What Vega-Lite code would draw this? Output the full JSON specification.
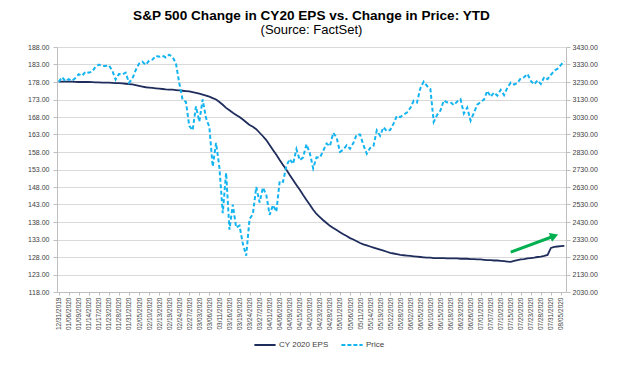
{
"$schema": "https://vega.github.io/schema/vega-lite/v6.json",
"width": 509, "height": 245,
"autosize": {"type": "none"},
"padding": {"left": 57, "top": 47, "right": 64, "bottom": 75},
"background": "white",
"config": {
 "font": "Liberation Sans",
 "view": {"stroke": null},
 "axis": {"labelFont": "Liberation Sans", "labelColor": "#404040", "domainColor": "#bfbfbf", "tickColor": "#bfbfbf", "gridColor": "#d9d9d9", "title": null, "labelFontSize": 7, "labelOverlap": false}
},
"title": {"text": "S&P 500 Change in CY20 EPS vs. Change in Price: YTD", "subtitle": "(Source: FactSet)", "fontSize": 13.6, "fontWeight": "bold", "subtitleFontSize": 13, "color": "#000000", "subtitleColor": "#000000", "anchor": "middle", "offset": 6, "subtitlePadding": 1, "font": "Liberation Sans", "subtitleFont": "Liberation Sans"},
"datasets": {
 "main": [
{"d":"12/31/2019","eps":178.1,"px":3230.78},
{"d":"01/02/2020","eps":178.1,"px":3257.85},
{"d":"01/03/2020","eps":178.1,"px":3234.85},
{"d":"01/06/2020","eps":178.1,"px":3246.28},
{"d":"01/07/2020","eps":178.1,"px":3237.18},
{"d":"01/08/2020","eps":178.05,"px":3253.05},
{"d":"01/09/2020","eps":178.0,"px":3274.70},
{"d":"01/10/2020","eps":178.0,"px":3265.35},
{"d":"01/13/2020","eps":178.0,"px":3288.13},
{"d":"01/14/2020","eps":178.0,"px":3283.15},
{"d":"01/15/2020","eps":177.95,"px":3289.29},
{"d":"01/16/2020","eps":177.9,"px":3316.81},
{"d":"01/17/2020","eps":177.9,"px":3329.62},
{"d":"01/21/2020","eps":177.85,"px":3320.79},
{"d":"01/22/2020","eps":177.8,"px":3321.75},
{"d":"01/23/2020","eps":177.8,"px":3325.54},
{"d":"01/24/2020","eps":177.75,"px":3295.47},
{"d":"01/27/2020","eps":177.7,"px":3243.63},
{"d":"01/28/2020","eps":177.7,"px":3276.24},
{"d":"01/29/2020","eps":177.6,"px":3273.40},
{"d":"01/30/2020","eps":177.5,"px":3283.66},
{"d":"01/31/2020","eps":177.4,"px":3225.52},
{"d":"02/03/2020","eps":177.3,"px":3248.92},
{"d":"02/04/2020","eps":177.1,"px":3297.59},
{"d":"02/05/2020","eps":176.9,"px":3334.69},
{"d":"02/06/2020","eps":176.7,"px":3345.78},
{"d":"02/07/2020","eps":176.5,"px":3327.71},
{"d":"02/10/2020","eps":176.4,"px":3352.09},
{"d":"02/11/2020","eps":176.3,"px":3357.75},
{"d":"02/12/2020","eps":176.2,"px":3379.45},
{"d":"02/13/2020","eps":176.1,"px":3373.94},
{"d":"02/14/2020","eps":176.0,"px":3380.16},
{"d":"02/18/2020","eps":175.9,"px":3370.29},
{"d":"02/19/2020","eps":175.85,"px":3386.15},
{"d":"02/20/2020","eps":175.8,"px":3373.23},
{"d":"02/21/2020","eps":175.7,"px":3337.75},
{"d":"02/24/2020","eps":175.6,"px":3225.89},
{"d":"02/25/2020","eps":175.5,"px":3128.21},
{"d":"02/26/2020","eps":175.4,"px":3116.39},
{"d":"02/27/2020","eps":175.3,"px":2978.76},
{"d":"02/28/2020","eps":175.1,"px":2954.22},
{"d":"03/02/2020","eps":174.9,"px":3090.23},
{"d":"03/03/2020","eps":174.7,"px":3003.37},
{"d":"03/04/2020","eps":174.4,"px":3130.12},
{"d":"03/05/2020","eps":174.1,"px":3023.94},
{"d":"03/06/2020","eps":173.8,"px":2972.37},
{"d":"03/09/2020","eps":173.4,"px":2746.56},
{"d":"03/10/2020","eps":173.0,"px":2882.23},
{"d":"03/11/2020","eps":172.3,"px":2741.38},
{"d":"03/12/2020","eps":171.5,"px":2480.64},
{"d":"03/13/2020","eps":170.6,"px":2711.02},
{"d":"03/16/2020","eps":169.9,"px":2386.13},
{"d":"03/17/2020","eps":169.2,"px":2529.19},
{"d":"03/18/2020","eps":168.6,"px":2398.10},
{"d":"03/19/2020","eps":168.0,"px":2409.39},
{"d":"03/20/2020","eps":167.3,"px":2304.92},
{"d":"03/23/2020","eps":166.5,"px":2237.40},
{"d":"03/24/2020","eps":165.7,"px":2447.33},
{"d":"03/25/2020","eps":165.2,"px":2475.56},
{"d":"03/26/2020","eps":164.5,"px":2630.07},
{"d":"03/27/2020","eps":163.5,"px":2541.47},
{"d":"03/30/2020","eps":162.5,"px":2626.65},
{"d":"03/31/2020","eps":161.4,"px":2584.59},
{"d":"04/01/2020","eps":160.0,"px":2470.50},
{"d":"04/02/2020","eps":158.6,"px":2526.90},
{"d":"04/03/2020","eps":157.2,"px":2488.65},
{"d":"04/06/2020","eps":155.7,"px":2663.68},
{"d":"04/07/2020","eps":154.3,"px":2659.41},
{"d":"04/08/2020","eps":152.9,"px":2749.98},
{"d":"04/09/2020","eps":151.4,"px":2789.82},
{"d":"04/13/2020","eps":150.0,"px":2761.63},
{"d":"04/14/2020","eps":148.6,"px":2846.06},
{"d":"04/15/2020","eps":147.2,"px":2783.36},
{"d":"04/16/2020","eps":145.7,"px":2799.55},
{"d":"04/17/2020","eps":144.3,"px":2874.56},
{"d":"04/20/2020","eps":142.9,"px":2823.16},
{"d":"04/21/2020","eps":141.5,"px":2736.56},
{"d":"04/22/2020","eps":140.3,"px":2799.31},
{"d":"04/23/2020","eps":139.4,"px":2797.80},
{"d":"04/24/2020","eps":138.5,"px":2836.74},
{"d":"04/27/2020","eps":137.7,"px":2878.48},
{"d":"04/28/2020","eps":136.9,"px":2863.39},
{"d":"04/29/2020","eps":136.3,"px":2939.51},
{"d":"04/30/2020","eps":135.7,"px":2912.43},
{"d":"05/01/2020","eps":135.1,"px":2830.71},
{"d":"05/04/2020","eps":134.5,"px":2842.74},
{"d":"05/05/2020","eps":134.0,"px":2868.44},
{"d":"05/06/2020","eps":133.4,"px":2848.42},
{"d":"05/07/2020","eps":133.0,"px":2881.19},
{"d":"05/08/2020","eps":132.5,"px":2929.80},
{"d":"05/11/2020","eps":132.0,"px":2930.32},
{"d":"05/12/2020","eps":131.6,"px":2870.12},
{"d":"05/13/2020","eps":131.3,"px":2820.00},
{"d":"05/14/2020","eps":131.0,"px":2852.50},
{"d":"05/15/2020","eps":130.7,"px":2863.70},
{"d":"05/18/2020","eps":130.4,"px":2953.91},
{"d":"05/19/2020","eps":130.1,"px":2922.94},
{"d":"05/20/2020","eps":129.8,"px":2971.61},
{"d":"05/21/2020","eps":129.5,"px":2948.51},
{"d":"05/22/2020","eps":129.2,"px":2955.45},
{"d":"05/26/2020","eps":129.0,"px":2991.77},
{"d":"05/27/2020","eps":128.8,"px":3036.13},
{"d":"05/28/2020","eps":128.6,"px":3029.73},
{"d":"05/29/2020","eps":128.5,"px":3044.31},
{"d":"06/01/2020","eps":128.4,"px":3055.73},
{"d":"06/02/2020","eps":128.3,"px":3080.82},
{"d":"06/03/2020","eps":128.2,"px":3122.87},
{"d":"06/04/2020","eps":128.1,"px":3112.35},
{"d":"06/05/2020","eps":128.0,"px":3193.93},
{"d":"06/08/2020","eps":127.9,"px":3232.39},
{"d":"06/09/2020","eps":127.8,"px":3207.18},
{"d":"06/10/2020","eps":127.8,"px":3190.14},
{"d":"06/11/2020","eps":127.7,"px":3002.10},
{"d":"06/12/2020","eps":127.7,"px":3041.31},
{"d":"06/15/2020","eps":127.7,"px":3066.59},
{"d":"06/16/2020","eps":127.7,"px":3124.74},
{"d":"06/17/2020","eps":127.6,"px":3113.49},
{"d":"06/18/2020","eps":127.6,"px":3115.34},
{"d":"06/19/2020","eps":127.6,"px":3097.74},
{"d":"06/22/2020","eps":127.6,"px":3117.86},
{"d":"06/23/2020","eps":127.5,"px":3131.29},
{"d":"06/24/2020","eps":127.5,"px":3050.33},
{"d":"06/25/2020","eps":127.5,"px":3083.76},
{"d":"06/26/2020","eps":127.4,"px":3009.05},
{"d":"06/29/2020","eps":127.4,"px":3053.24},
{"d":"06/30/2020","eps":127.3,"px":3100.29},
{"d":"07/01/2020","eps":127.3,"px":3115.86},
{"d":"07/02/2020","eps":127.2,"px":3130.01},
{"d":"07/06/2020","eps":127.1,"px":3179.72},
{"d":"07/07/2020","eps":127.1,"px":3145.32},
{"d":"07/08/2020","eps":127.0,"px":3169.94},
{"d":"07/09/2020","eps":127.0,"px":3152.05},
{"d":"07/10/2020","eps":126.9,"px":3185.04},
{"d":"07/13/2020","eps":126.8,"px":3155.22},
{"d":"07/14/2020","eps":126.7,"px":3197.52},
{"d":"07/15/2020","eps":126.6,"px":3226.56},
{"d":"07/16/2020","eps":126.9,"px":3215.57},
{"d":"07/17/2020","eps":127.1,"px":3224.73},
{"d":"07/20/2020","eps":127.3,"px":3251.84},
{"d":"07/21/2020","eps":127.4,"px":3257.30},
{"d":"07/22/2020","eps":127.6,"px":3276.02},
{"d":"07/23/2020","eps":127.7,"px":3235.66},
{"d":"07/24/2020","eps":127.8,"px":3215.63},
{"d":"07/27/2020","eps":128.0,"px":3239.41},
{"d":"07/28/2020","eps":128.1,"px":3218.44},
{"d":"07/29/2020","eps":128.3,"px":3258.44},
{"d":"07/30/2020","eps":128.6,"px":3246.22},
{"d":"07/31/2020","eps":130.6,"px":3271.12},
{"d":"08/03/2020","eps":130.9,"px":3294.61},
{"d":"08/04/2020","eps":131.0,"px":3306.51},
{"d":"08/05/2020","eps":131.1,"px":3327.77},
{"d":"08/06/2020","eps":131.2,"px":3349.16}
 ],
 "arrow": [{"d": "07/15/2020", "d2": "08/03/2020", "y1": 129.4, "y2": 134.0}]
},
"layer": [
 {
  "layer": [
   {
    "data": {"name": "main"},
    "mark": {"type": "line", "strokeWidth": 1.8},
    "encoding": {
     "x": {"field": "d", "type": "ordinal", "sort": null,
       "scale": {"type": "point", "padding": 0.5},
       "axis": {"values": ["12/31/2019","01/06/2020","01/09/2020","01/14/2020","01/17/2020","01/23/2020","01/28/2020","01/31/2020","02/05/2020","02/10/2020","02/13/2020","02/19/2020","02/24/2020","02/27/2020","03/03/2020","03/06/2020","03/11/2020","03/16/2020","03/19/2020","03/24/2020","03/27/2020","04/01/2020","04/06/2020","04/09/2020","04/15/2020","04/20/2020","04/23/2020","04/28/2020","05/01/2020","05/06/2020","05/11/2020","05/14/2020","05/19/2020","05/22/2020","05/28/2020","06/02/2020","06/05/2020","06/10/2020","06/15/2020","06/18/2020","06/23/2020","06/26/2020","07/01/2020","07/07/2020","07/10/2020","07/15/2020","07/20/2020","07/23/2020","07/28/2020","07/31/2020","08/05/2020"],
         "labelAngle": -90, "labelFontSize": 6.5, "tickSize": 3, "labelPadding": 2, "grid": false}},
     "y": {"field": "eps", "type": "quantitative",
       "scale": {"domain": [118, 188], "nice": false, "zero": false},
       "axis": {"orient": "left", "values": [118,123,128,133,138,143,148,153,158,163,168,173,178,183,188], "tickCount": 15, "format": ".2f", "grid": true, "tickSize": 4, "labelPadding": 4}},
     "color": {"datum": "CY 2020 EPS", "type": "nominal",
       "scale": {"domain": ["CY 2020 EPS", "Price"], "range": ["#1f2d5c", "#14b4f0"]},
       "legend": {"title": null, "orient": "none", "legendX": 196, "legendY": 286, "direction": "horizontal", "labelFontSize": 8, "labelColor": "#404040", "symbolType": "stroke", "symbolStrokeWidth": 2, "symbolSize": 450, "columnPadding": 8, "labelOffset": 2,
         "encode": {"symbols": {"update": {"strokeDash": {"signal": "datum.value == 'Price' ? [4, 2] : [1, 0]"}}}}}}
    }
   },
   {
    "data": {"name": "arrow"},
    "mark": {"type": "rule", "strokeWidth": 3, "color": "#00b050"},
    "encoding": {
     "x": {"field": "d", "type": "ordinal", "sort": null,
       "axis": {"values": ["12/31/2019","01/06/2020","01/09/2020","01/14/2020","01/17/2020","01/23/2020","01/28/2020","01/31/2020","02/05/2020","02/10/2020","02/13/2020","02/19/2020","02/24/2020","02/27/2020","03/03/2020","03/06/2020","03/11/2020","03/16/2020","03/19/2020","03/24/2020","03/27/2020","04/01/2020","04/06/2020","04/09/2020","04/15/2020","04/20/2020","04/23/2020","04/28/2020","05/01/2020","05/06/2020","05/11/2020","05/14/2020","05/19/2020","05/22/2020","05/28/2020","06/02/2020","06/05/2020","06/10/2020","06/15/2020","06/18/2020","06/23/2020","06/26/2020","07/01/2020","07/07/2020","07/10/2020","07/15/2020","07/20/2020","07/23/2020","07/28/2020","07/31/2020","08/05/2020"],
         "labelAngle": -90, "labelFontSize": 6.5, "tickSize": 3, "labelPadding": 2, "grid": false}},
     "x2": {"field": "d2"},
     "y": {"field": "y1", "type": "quantitative",
       "axis": {"orient": "left", "values": [118,123,128,133,138,143,148,153,158,163,168,173,178,183,188], "tickCount": 15, "format": ".2f", "grid": true, "tickSize": 4, "labelPadding": 4}},
     "y2": {"field": "y2"}
    }
   },
   {
    "data": {"name": "arrow"},
    "mark": {"type": "point", "shape": "triangle-right", "filled": true, "color": "#00b050", "opacity": 1, "size": 90, "angle": 340},
    "encoding": {
     "x": {"field": "d2", "type": "ordinal", "sort": null,
       "axis": {"values": ["12/31/2019","01/06/2020","01/09/2020","01/14/2020","01/17/2020","01/23/2020","01/28/2020","01/31/2020","02/05/2020","02/10/2020","02/13/2020","02/19/2020","02/24/2020","02/27/2020","03/03/2020","03/06/2020","03/11/2020","03/16/2020","03/19/2020","03/24/2020","03/27/2020","04/01/2020","04/06/2020","04/09/2020","04/15/2020","04/20/2020","04/23/2020","04/28/2020","05/01/2020","05/06/2020","05/11/2020","05/14/2020","05/19/2020","05/22/2020","05/28/2020","06/02/2020","06/05/2020","06/10/2020","06/15/2020","06/18/2020","06/23/2020","06/26/2020","07/01/2020","07/07/2020","07/10/2020","07/15/2020","07/20/2020","07/23/2020","07/28/2020","07/31/2020","08/05/2020"],
         "labelAngle": -90, "labelFontSize": 6.5, "tickSize": 3, "labelPadding": 2, "grid": false}},
     "y": {"field": "y2", "type": "quantitative",
       "axis": {"orient": "left", "values": [118,123,128,133,138,143,148,153,158,163,168,173,178,183,188], "tickCount": 15, "format": ".2f", "grid": true, "tickSize": 4, "labelPadding": 4}}
    }
   }
  ]
 },
 {
  "data": {"name": "main"},
  "mark": {"type": "line", "strokeWidth": 2, "strokeDash": [4, 2.5]},
  "encoding": {
   "x": {"field": "d", "type": "ordinal", "sort": null},
   "y": {"field": "px", "type": "quantitative",
     "scale": {"domain": [2030, 3430], "nice": false, "zero": false},
     "axis": {"orient": "right", "values": [2030,2130,2230,2330,2430,2530,2630,2730,2830,2930,3030,3130,3230,3330,3430], "tickCount": 15, "format": ".2f", "grid": false, "tickSize": 4, "labelPadding": 2}},
   "color": {"datum": "Price", "type": "nominal"}
  }
 }
],
"resolve": {"scale": {"y": "independent"}}
}
